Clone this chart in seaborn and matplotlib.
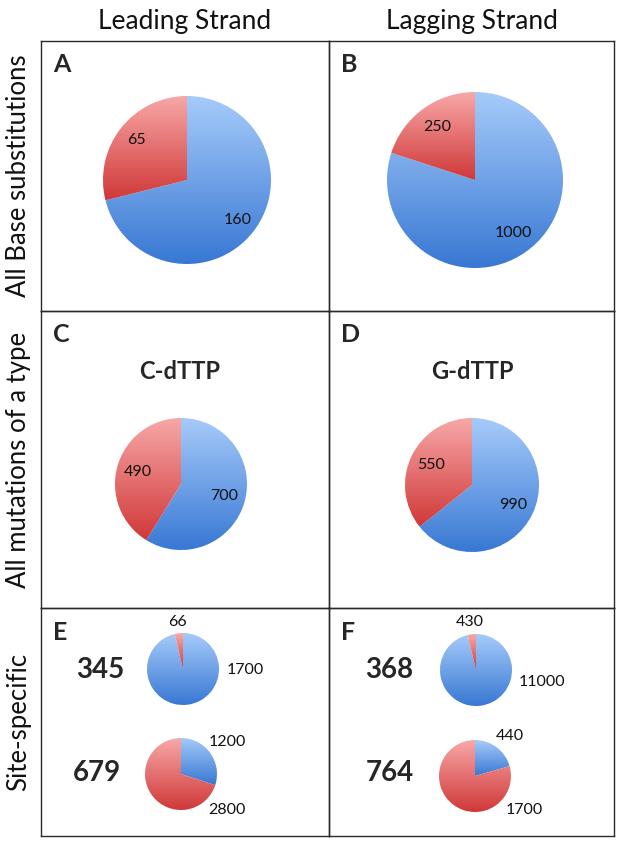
import numpy as np
import matplotlib.pyplot as plt
import seaborn as sns

sns.set_theme(style="white")
plt.rcParams['font.family'] = ['Lato', 'DejaVu Sans']

# ---- data (blue slice first, red slice second) ----
col_titles = ["Leading Strand", "Lagging Strand"]
row_titles = ["All Base substitutions", "All mutations of a type", "Site-specific"]
panel_letters = ["A", "B", "C", "D", "E", "F"]
type_titles = ["C-dTTP", "G-dTTP"]

leading_all = [160, 65]
lagging_all = [1000, 250]
leading_type = [700, 490]
lagging_type = [990, 550]

site_ids = ["345", "679", "368", "764"]
site_345 = [1700, 66]
site_679 = [1200, 2800]
site_368 = [11000, 430]
site_764 = [440, 1700]

W, H = 624, 848
fig = plt.figure(figsize=(W / 100, H / 100), dpi=100)


def box(x0, y0, w, h):
    return [x0 / W, 1 - (y0 + h) / H, w / W, h / H]


blue_cmap = sns.blend_palette(["#3878d3", "#a6cbfa"], as_cmap=True)
red_cmap = sns.blend_palette(["#d03838", "#f8a8a8"], as_cmap=True)


def gradient_pie(cx, cy, r, values, label_dist=0.76, label_pos=None):
    ax = fig.add_axes(box(cx - r, cy - r, 2 * r, 2 * r))
    total = sum(values)
    wedges, _, autotexts = ax.pie(
        values, startangle=90, counterclock=False, radius=1,
        autopct=lambda p: f"{p * total / 100:.0f}", pctdistance=label_dist,
        wedgeprops=dict(linewidth=0),
        textprops=dict(fontsize=11.5, color="#111111"))
    for w, cmap in zip(wedges, [blue_cmap, red_cmap]):
        x0, y0, x1, y1 = w.get_path().get_extents().extents
        grad = np.linspace(0, 1, 256).reshape(-1, 1)
        im = ax.imshow(grad, extent=(x0, x1, y0, y1), origin="lower",
                       cmap=cmap, aspect="auto", zorder=1)
        im.set_clip_path(w)
        w.set_facecolor("none")
    if label_pos is not None:
        for t, pos in zip(autotexts, label_pos):
            t.set_position(pos)
            t.set_clip_on(False)
    ax.set_xlim(-1, 1)
    ax.set_ylim(-1, 1)
    ax.set_aspect("equal")
    ax.axis("off")
    return ax


# ---- panel frames ----
cols = [(41, 329), (329, 614)]
rows = [(41, 311), (311, 608), (608, 836)]
k = 0
for (y0, y1) in rows:
    for (x0, x1) in cols:
        ax = fig.add_axes(box(x0, y0, x1 - x0, y1 - y0))
        ax.set_xticks([])
        ax.set_yticks([])
        ax.set_facecolor("none")
        for s in ax.spines.values():
            s.set_color("#2a2a2a")
            s.set_linewidth(1.0)
        ax.text(12 / (x1 - x0), 1 - 24 / (y1 - y0), panel_letters[k],
                transform=ax.transAxes, fontsize=18, fontweight="bold",
                va="center", ha="left")
        k += 1

# ---- headers ----
for (x0, x1), t in zip(cols, col_titles):
    fig.text((x0 + x1) / 2 / W, 1 - 21 / H, t, fontsize=19,
             ha="center", va="center", color="#111111")
for (y0, y1), t in zip(rows, row_titles):
    fig.text(19 / W, 1 - (y0 + y1) / 2 / H, t, fontsize=18.5, rotation=90,
             ha="center", va="center", color="#111111")
for cx, t in zip([180, 472], type_titles):
    fig.text(cx / W, 1 - 372 / H, t, fontsize=17, fontweight="bold",
             ha="center", va="center")

# ---- pies ----
gradient_pie(187, 180, 84, leading_all, 0.77)
gradient_pie(475, 180, 88, lagging_all, 0.74)
gradient_pie(181, 484, 66, leading_type, 0.68)
gradient_pie(472, 485, 67, lagging_type, 0.68)

gradient_pie(183, 669, 36, site_345, label_pos=[(1.72, -0.03), (-0.16, 1.3)])
gradient_pie(181, 774, 36, site_679, label_pos=[(1.3, 0.88), (1.28, -1.0)])
gradient_pie(476, 670, 36, site_368, label_pos=[(1.83, -0.33), (-0.16, 1.33)])
gradient_pie(475, 776, 36, site_764, label_pos=[(0.98, 1.1), (1.37, -0.95)])

for (x, y), sid in zip([(100, 670), (97, 773), (389, 670), (390, 773)], site_ids):
    fig.text(x / W, 1 - y / H, sid, fontsize=20, fontweight="bold",
             ha="center", va="center")

fig.savefig("out.png", dpi=100)
